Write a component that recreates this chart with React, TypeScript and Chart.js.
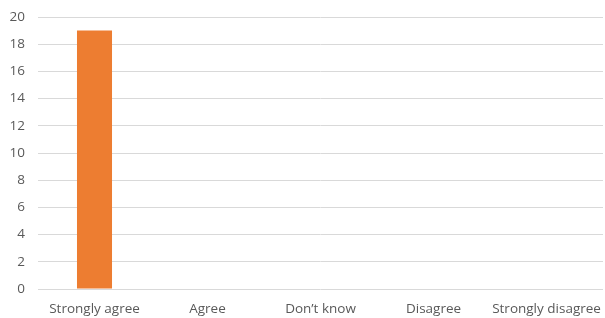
import React, { useEffect, useRef } from "react";
import { Chart, registerables } from "chart.js";

Chart.register(...registerables);

const categories = ["Strongly agree", "Agree", "Don’t know", "Disagree", "Strongly disagree"];
const values = [19, 0, 0, 0, 0];

export default function App() {
  const ref = useRef<HTMLCanvasElement>(null);
  useEffect(() => {
    document.body.style.margin = "0";
    const chart = new Chart(ref.current!, {
      type: "bar",
      data: {
        labels: categories,
        datasets: [
          {
            data: values,
            backgroundColor: "#ED7D31",
            barPercentage: 0.31,
            categoryPercentage: 1,
          },
        ],
      },
      options: {
        animation: false,
        responsive: false,
        maintainAspectRatio: false,
        layout: { padding: { top: 17, right: 1, left: 0, bottom: 0 } },
        plugins: { legend: { display: false }, tooltip: { enabled: false } },
        scales: {
          x: {
            grid: { display: false },
            border: { display: false },
            ticks: { color: "#595959", font: { family: "Open Sans", size: 13.5 }, padding: 4, maxRotation: 0, autoSkip: false },
            afterFit: (s: any) => { s.height = 29; },
          },
          y: {
            min: 0,
            max: 20,
            ticks: { stepSize: 2, color: "#595959", font: { family: "Open Sans", size: 13.5 }, padding: 1 },
            grid: { color: "#d9d9d9", drawTicks: true, tickLength: 12, tickColor: "rgba(0,0,0,0)", lineWidth: 1 },
            border: { display: false },
            afterFit: (s: any) => { s.width = 38; },
          },
        },
      },
    });
    return () => chart.destroy();
  }, []);
  return (
    <div style={{ width: 605, height: 318 }}>
      <canvas ref={ref} width={605} height={318} style={{ display: "block" }} />
    </div>
  );
}
